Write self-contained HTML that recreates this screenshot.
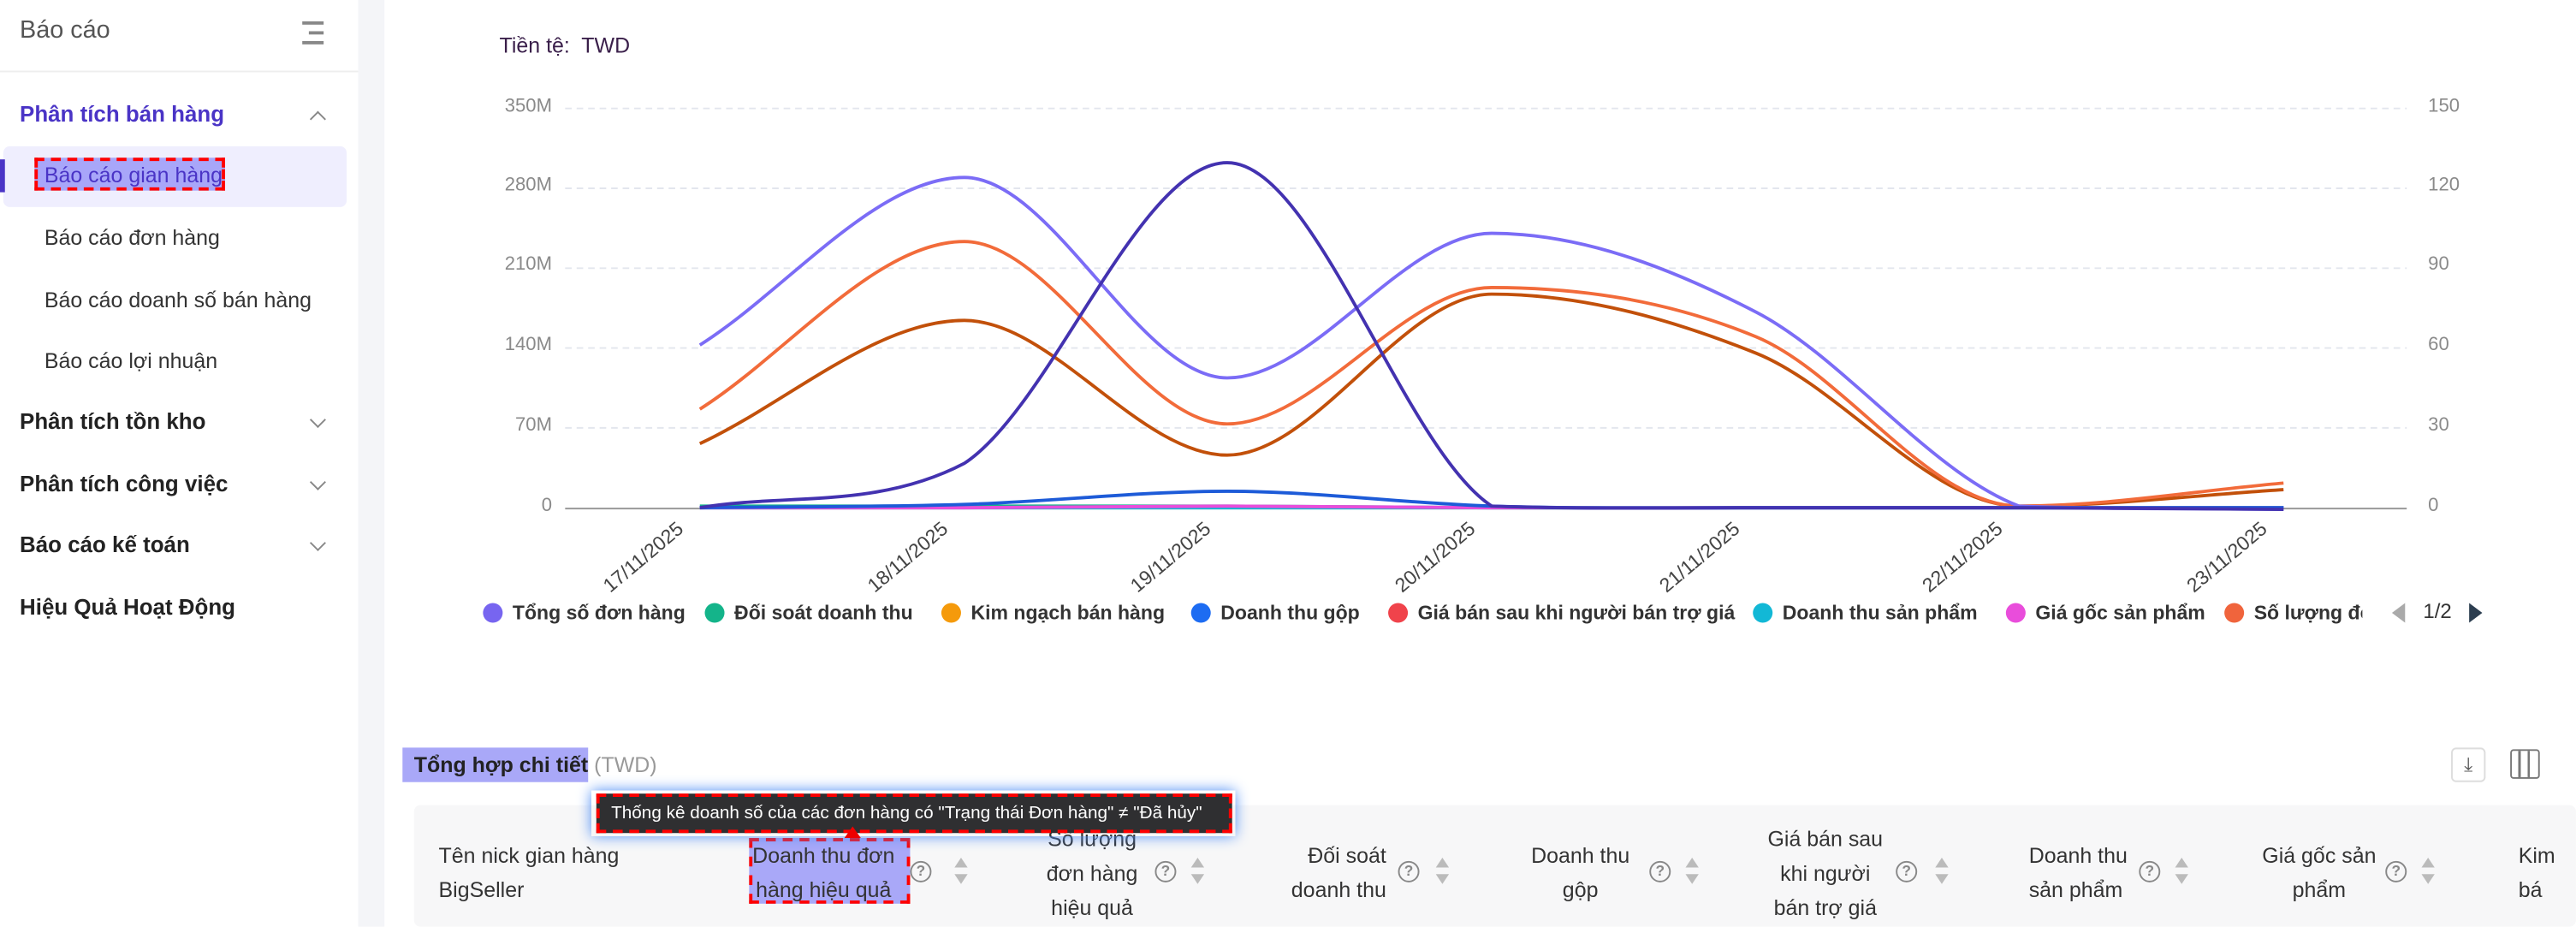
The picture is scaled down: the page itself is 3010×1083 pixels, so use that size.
<!DOCTYPE html>
<html><head><meta charset="utf-8">
<style>
html,body{margin:0;padding:0;width:3010px;height:1081px;overflow:hidden;background:#fff}
#w{position:absolute;left:0;top:0;width:1568px;height:564px;transform:scale(1.9196);transform-origin:0 0;font-family:"Liberation Sans","DejaVu Sans",sans-serif;color:#222}
.a{position:absolute;white-space:nowrap}
.sb{font-size:13px;color:#333}
.g{font-size:13.5px;font-weight:bold;color:#222}
.chev{position:absolute;width:6px;height:6px;border-right:1.3px solid #888;border-bottom:1.3px solid #888;transform:rotate(45deg)}
.yl{font-size:11.5px;color:#8a8a8a}
.xl{font-size:12px;color:#444;transform:rotate(-40deg);transform-origin:right center}
.lg{font-size:12px;font-weight:bold;color:#333}
.dot{position:absolute;width:12px;height:12px;border-radius:50%}
.th{font-size:13px;color:#333;line-height:21px;text-align:center}
.q{position:absolute;width:11px;height:11px;border:1.5px solid #888;border-radius:50%;font-size:9px;line-height:11px;text-align:center;color:#888;font-weight:bold}
.srt{position:absolute;width:0;height:0;border-left:4px solid transparent;border-right:4px solid transparent}
</style></head><body><div id="w">
<div class="a" style="left:218px;top:0;width:16px;height:564px;background:#f4f5f8"></div>
<div class="a" style="left:0;top:43px;width:218px;height:1px;background:#eee"></div>
<div class="a sb" style="left:12px;top:10px;font-size:15px;color:#555">Báo cáo</div>
<div class="a" style="left:184px;top:13px;width:13px;height:1.5px;background:#888"></div>
<div class="a" style="left:188px;top:19px;width:9px;height:1.5px;background:#888"></div>
<div class="a" style="left:184px;top:25px;width:13px;height:1.5px;background:#888"></div>
<div class="a" style="left:12px;top:62px;font-size:13.5px;font-weight:bold;color:#4a34c6">Phân tích bán hàng</div>
<div class="chev" style="left:190px;top:69px;transform:rotate(225deg)"></div>
<div class="a" style="left:2px;top:89px;width:209px;height:37px;background:#efeefe;border-radius:4px"></div>
<div class="a" style="left:0;top:97px;width:3px;height:20px;background:#4a34c6"></div>
<div class="a" style="left:21px;top:96px;width:116px;height:20px;background:#a8a6f9;border:2px dashed #f00;box-sizing:border-box"></div>
<div class="a sb" style="left:27px;top:99px;color:#4a34c6">Báo cáo gian hàng</div>
<div class="a sb" style="left:27px;top:137px">Báo cáo đơn hàng</div>
<div class="a sb" style="left:27px;top:175px">Báo cáo doanh số bán hàng</div>
<div class="a sb" style="left:27px;top:212px">Báo cáo lợi nhuận</div>
<div class="a g" style="left:12px;top:249px">Phân tích tồn kho</div><div class="chev" style="left:190px;top:252px"></div>
<div class="a g" style="left:12px;top:287px">Phân tích công việc</div><div class="chev" style="left:190px;top:290px"></div>
<div class="a g" style="left:12px;top:324px">Báo cáo kế toán</div><div class="chev" style="left:190px;top:327px"></div>
<div class="a g" style="left:12px;top:362px">Hiệu Quả Hoạt Động</div>
<div class="a" style="left:304px;top:20px;font-size:13px;color:#3a1f4a">Tiền tệ:&nbsp; TWD</div>
<svg class="a" style="left:0;top:0" width="1568" height="564">
<g stroke="#e3e6ee" stroke-dasharray="4,3" stroke-width="1">
<line x1="344" x2="1465" y1="66" y2="66"/><line x1="344" x2="1465" y1="114.6" y2="114.6"/><line x1="344" x2="1465" y1="163.2" y2="163.2"/><line x1="344" x2="1465" y1="211.8" y2="211.8"/><line x1="344" x2="1465" y1="260.4" y2="260.4"/></g>
<line x1="344" x2="1465" y1="309.5" y2="309.5" stroke="#999" stroke-width="1"/>
<g id="lines" fill="none" stroke-width="2"></g>
</svg>
<div class="a yl" style="right:1232px;top:59px">350M</div>
<div class="a yl" style="right:1232px;top:107px">280M</div>
<div class="a yl" style="right:1232px;top:155px">210M</div>
<div class="a yl" style="right:1232px;top:204px">140M</div>
<div class="a yl" style="right:1232px;top:253px">70M</div>
<div class="a yl" style="right:1232px;top:302px">0</div>
<div class="a yl" style="left:1478px;top:59px">150</div>
<div class="a yl" style="left:1478px;top:107px">120</div>
<div class="a yl" style="left:1478px;top:155px">90</div>
<div class="a yl" style="left:1478px;top:204px">60</div>
<div class="a yl" style="left:1478px;top:253px">30</div>
<div class="a yl" style="left:1478px;top:302px">0</div>
<div id="xls"></div>
<div class="dot" style="left:294px;top:367px;background:#7765f0"></div><div class="a lg" style="left:312px;top:366px">Tổng số đơn hàng</div>
<div class="dot" style="left:429px;top:367px;background:#14b48a"></div><div class="a lg" style="left:447px;top:366px">Đối soát doanh thu</div>
<div class="dot" style="left:573px;top:367px;background:#f59a0b"></div><div class="a lg" style="left:591px;top:366px">Kim ngạch bán hàng</div>
<div class="dot" style="left:725px;top:367px;background:#1d6cf2"></div><div class="a lg" style="left:743px;top:366px">Doanh thu gộp</div>
<div class="dot" style="left:845px;top:367px;background:#f0434b"></div><div class="a lg" style="left:863px;top:366px">Giá bán sau khi người bán trợ giá</div>
<div class="dot" style="left:1067px;top:367px;background:#12b8d6"></div><div class="a lg" style="left:1085px;top:366px">Doanh thu sản phẩm</div>
<div class="dot" style="left:1221px;top:367px;background:#e94ddb"></div><div class="a lg" style="left:1239px;top:366px">Giá gốc sản phẩm</div>
<div class="dot" style="left:1354px;top:367px;background:#f0643c"></div><div class="a lg" style="left:1372px;top:366px;width:66px;overflow:hidden">Số lượng đơn</div>
<div class="a" style="left:1456px;top:367px;width:0;height:0;border-top:6px solid transparent;border-bottom:6px solid transparent;border-right:8px solid #aaa"></div>
<div class="a" style="left:1475px;top:365px;font-size:12.5px;color:#333">1/2</div>
<div class="a" style="left:1503px;top:367px;width:0;height:0;border-top:6px solid transparent;border-bottom:6px solid transparent;border-left:8px solid #2c3e50"></div>
<div class="a" style="left:245px;top:455px;width:113px;height:21px;background:#a9a8f8"></div>
<div class="a" style="left:252px;top:458px;font-size:13px;font-weight:bold">Tổng hợp chi tiết <span style="font-weight:normal;color:#999">(TWD)</span></div>
<div class="a" style="left:1492px;top:455px;width:21px;height:21px;border:1px solid #ddd;border-radius:3px;box-sizing:border-box;font-size:12px;text-align:center;line-height:19px;color:#555">⤓</div>
<div class="a" style="left:1528px;top:456px;width:18px;height:18px;border:1.5px solid #777;border-radius:2px;box-sizing:border-box;background:linear-gradient(90deg,transparent 4px,#777 4px,#777 5.5px,transparent 5.5px,transparent 9.5px,#777 9.5px,#777 11px,transparent 11px)"></div>
<div class="a" style="left:252px;top:490px;width:1316px;height:74px;background:#f7f7f8;border-radius:4px"></div>
<div class="a th" style="left:267px;top:510px;text-align:left">Tên nick gian hàng<br>BigSeller</div>
<div class="a" style="left:456px;top:510px;width:98px;height:40px;background:#a9a8f8;border:2px dashed #f00;box-sizing:border-box"></div>
<div class="a th" style="left:458px;top:510px">Doanh thu đơn<br>hàng hiệu quả</div>
<div class="a th" style="left:637px;top:500px">Số lượng<br>đơn hàng<br>hiệu quả</div>
<div class="a th" style="left:786px;top:510px;text-align:right">Đối soát<br>doanh thu</div>
<div class="a th" style="left:932px;top:510px">Doanh thu<br>gộp</div>
<div class="a th" style="left:1076px;top:500px">Giá bán sau<br>khi người<br>bán trợ giá</div>
<div class="a th" style="left:1235px;top:510px;text-align:left">Doanh thu<br>sản phẩm</div>
<div class="a th" style="left:1377px;top:510px">Giá gốc sản<br>phẩm</div>
<div class="a th" style="left:1533px;top:510px;text-align:left">Kim<br>bá</div>
<div id="qs"></div>
<div class="a" style="left:360px;top:481px;width:392px;height:28px;box-shadow:0 0 8px #4b8cf5"></div>
<div class="a" style="left:363px;top:483px;width:387px;height:24px;background:#2f2f31;border:2px dashed #f00;box-sizing:border-box;color:#fff;font-size:10.8px;line-height:20px;padding-left:7px;overflow:hidden">Thống kê doanh số của các đơn hàng có "Trạng thái Đơn hàng" ≠ "Đã hủy"</div>
<div class="a" style="left:514px;top:503px;width:0;height:0;border-left:5px solid transparent;border-right:5px solid transparent;border-bottom:7px solid #e00"></div>
</div>
<script>
var X=[426,587,747,908,1069,1229,1390];
var S=[
["#c2500a",[270,195,277,179,215,308,298]],
["#f26b3a",[249,147,258,175,205,308,294]],
["#7b6cf6",[210,108,230,142,190,308,310]],
["#12b8d6",[309,309,309,309,309,309,309]],
["#14b48a",[308,308,308,309,309,309,309]],
["#e94ddb",[309,309,308,309,309,309,309]],
["#1d5bd8",[309,307,299,308,309,309,309]],
["#4332b0",[309,282,99,308,309,309,310]]];
function mono(xs,ys){var n=xs.length,d=[],m=[];for(var i=0;i<n-1;i++)d.push((ys[i+1]-ys[i])/(xs[i+1]-xs[i]));
m[0]=d[0];m[n-1]=d[n-2];for(i=1;i<n-1;i++){m[i]=(d[i-1]*d[i]<=0)?0:(d[i-1]+d[i])/2;}
function c(y){return Math.min(y,310);}
var p="M"+xs[0]+","+ys[0];for(i=0;i<n-1;i++){var h=(xs[i+1]-xs[i])/3;p+=" C"+(xs[i]+h)+","+c(ys[i]+m[i]*h)+" "+(xs[i+1]-h)+","+c(ys[i+1]-m[i+1]*h)+" "+xs[i+1]+","+ys[i+1];}return p;}
var g=document.getElementById("lines"),h="";
S.forEach(function(s){h+='<path d="'+mono(X,s[1])+'" stroke="'+s[0]+'"/>';});g.innerHTML=h;
var xl="",dates=["17/11/2025","18/11/2025","19/11/2025","20/11/2025","21/11/2025","22/11/2025","23/11/2025"];
X.forEach(function(x,i){xl+='<div class="a xl" style="right:'+(1568-x+12)+'px;top:313px">'+dates[i]+'</div>';});
document.getElementById("xls").innerHTML=xl;
var q="";[[560,585],[709,729],[857,878],[1010,1030],[1160,1182],[1308,1328],[1458,1478]].forEach(function(a){
q+='<div class="q" style="left:'+(a[0]-6)+'px;top:524px">?</div>';
q+='<div class="srt" style="left:'+(a[1]-4)+'px;top:522px;border-bottom:6px solid #bbb"></div>';
q+='<div class="srt" style="left:'+(a[1]-4)+'px;top:532px;border-top:6px solid #bbb"></div>';});
document.getElementById("qs").innerHTML=q;
</script>
</body></html>
